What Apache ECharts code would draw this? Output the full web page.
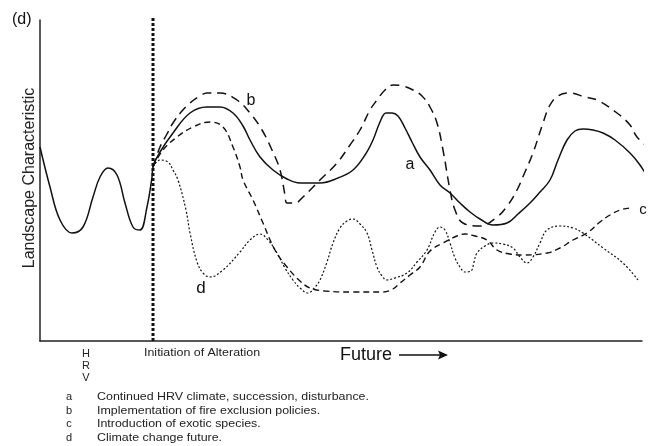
<!DOCTYPE html>
<html><head><meta charset="utf-8">
<script src="https://cdn.jsdelivr.net/npm/echarts@6/dist/echarts.min.js"></script>
<style>html,body{margin:0;padding:0;background:#fff}#c{width:648px;height:446px}</style>
</head><body><div id="c"></div>
<script>
// x: time (arbitrary units), y: landscape characteristic (arbitrary units)
const curveA = [[0,194],[10,154],[20,121],[32,108],[43,114],[53,144],[60,164],[68,173],[77,166],[85,138],[93,114],[100,111],[107,134],[112,164],[113,174],[120,189],[133,208],[150,228],[167,234],[180,234],[193,228],[203,215],[210,201],[220,184],[233,171],[247,162],[260,158],[280,158],[298,163],[313,171],[325,186],[333,201],[340,219],[346,228],[352,228],[358,225],[365,213],[372,199],[380,184],[390,171],[400,156],[410,148],[420,138],[430,129],[440,122],[453,116],[467,118],[478,127],[490,138],[500,149],[510,161],[518,181],[527,201],[535,210],[543,212],[553,211],[563,208],[575,201],[590,188],[600,176],[608,163]];
const curveB = [[113,174],[120,194],[127,207],[133,218],[142,230],[150,238],[160,245],[167,248],[180,248],[197,241],[210,228],[222,211],[232,191],[240,171],[245,146],[247,138],[255,138],[263,144],[280,161],[297,178],[310,196],[320,211],[330,231],[337,241],[345,251],[353,256],[363,255],[373,251],[382,245],[390,234],[397,218],[403,191],[410,151],[415,131],[423,118],[440,115],[457,124],[468,136],[477,151],[485,169],[493,188],[503,218],[510,236],[518,245],[530,248],[545,244],[557,241],[577,228],[590,216],[597,204],[608,194]];
const curveC = [[113,174],[123,191],[137,204],[153,214],[170,219],[183,214],[193,194],[200,174],[203,161],[213,141],[223,118],[235,91],[247,74],[260,60],[270,53],[285,50],[313,49],[343,49],[353,52],[360,58],[370,66],[380,74],[390,90],[403,98],[417,105],[425,107],[435,105],[447,101],[457,91],[470,87],[483,86],[507,88],[520,93],[533,101],[547,108],[560,119],[570,126],[580,131],[590,133]];
const curveD = [[113,174],[120,181],[128,179],[133,171],[138,161],[146,131],[150,108],[157,79],[163,68],[170,64],[183,71],[200,89],[210,101],[220,107],[228,101],[237,88],[245,73],[253,61],[260,53],[268,48],[275,54],[280,61],[287,79],[293,98],[300,113],[307,120],[313,122],[320,117],[327,108],[332,91],[337,74],[342,65],[347,61],[355,63],[367,68],[377,79],[387,91],[395,109],[400,114],[405,111],[410,98],[415,83],[420,74],[425,69],[431,70],[434,79],[437,88],[445,95],[453,98],[463,97],[473,93],[480,84],[487,78],[493,84],[500,98],[507,111],[520,115],[533,113],[543,108],[563,93],[583,78],[598,61]];
const alterationX = 113;
const alterationLine = [[alterationX,0],[alterationX,323]];
const legendKeys = ['a','b','c','d'];
const legendTexts = ['Continued HRV climate, succession, disturbance.','Implementation of fire exclusion policies.','Introduction of exotic species.','Climate change future.'];

const chart = echarts.init(document.getElementById('c'));
const F = '"Liberation Sans", Arial, sans-serif';
const ink = '#111';
function lineSeries(data, type, width, smooth){
  return {type:'line', data, showSymbol:false, symbol:'none', smooth, clip:false, z:3,
    lineStyle:{color:ink, width, type, cap:'butt'}};
}
const graphics = [
  {type:'text', x:12, y:20, style:{text:'(d)', font:'16px '+F, fill:ink, textVerticalAlign:'middle'}},
  {type:'text', x:30, y:178, rotation:Math.PI/2, style:{text:'Landscape Characteristic', font:'16px '+F, fill:'#222', textAlign:'center', textVerticalAlign:'middle'}},
  {type:'text', x:86, y:354, style:{text:'H', font:'11px '+F, fill:'#222', textAlign:'center', textVerticalAlign:'middle'}},
  {type:'text', x:86, y:366, style:{text:'R', font:'11px '+F, fill:'#222', textAlign:'center', textVerticalAlign:'middle'}},
  {type:'text', x:86, y:378, style:{text:'V', font:'11px '+F, fill:'#222', textAlign:'center', textVerticalAlign:'middle'}},
  {type:'text', x:144, y:353, scaleX:1.13, style:{text:'Initiation of Alteration', font:'11px '+F, fill:'#222', textVerticalAlign:'middle'}},
  {type:'text', x:340, y:355, style:{text:'Future', font:'18px '+F, fill:ink, textVerticalAlign:'middle'}},
  {type:'line', shape:{x1:399,y1:355,x2:442,y2:355}, style:{stroke:ink, lineWidth:1.5}},
  {type:'polygon', shape:{points:[[448,355],[438,350.5],[440,355],[438,359.5]]}, style:{fill:ink}},
  {type:'text', x:251, y:101, style:{text:'b', font:'16px '+F, fill:ink, textAlign:'center', textVerticalAlign:'middle'}},
  {type:'text', x:410, y:165, style:{text:'a', font:'16px '+F, fill:ink, textAlign:'center', textVerticalAlign:'middle'}},
  {type:'text', x:643, y:210, style:{text:'c', font:'15px '+F, fill:ink, textAlign:'center', textVerticalAlign:'middle'}},
  {type:'text', x:201, y:288, style:{text:'d', font:'17px '+F, fill:ink, textAlign:'center', textVerticalAlign:'middle'}}
];
legendKeys.forEach((k,i)=>{
  const y = 397 + i*13.7;
  graphics.push({type:'text', x:69, y, style:{text:k, font:'11px '+F, fill:'#222', textAlign:'center', textVerticalAlign:'middle'}});
  graphics.push({type:'text', x:97, y, scaleX:1.13, style:{text:legendTexts[i], font:'11px '+F, fill:'#222', textVerticalAlign:'middle'}});
});
chart.setOption({
  animation:false,
  backgroundColor:'#fff',
  grid:{left:40, right:6, top:20, bottom:105},
  xAxis:{type:'value', min:0, max:602, axisLine:{show:true, lineStyle:{color:'#222', width:1.5}}, axisTick:{show:false}, axisLabel:{show:false}, splitLine:{show:false}},
  yAxis:{type:'value', min:0, max:321, axisLine:{show:true, lineStyle:{color:'#222', width:1.5}}, axisTick:{show:false}, axisLabel:{show:false}, splitLine:{show:false}},
  series:[
    lineSeries(curveA, 'solid', 1.5, 0.4),
    lineSeries(curveB, [9,6], 1.5, 0.4),
    lineSeries(curveC, [6,4], 1.4, 0.4),
    lineSeries(curveD, [2,2], 1.2, 0.4),
    {type:'line', data:alterationLine, showSymbol:false, symbol:'none', clip:false, z:4,
      lineStyle:{color:ink, width:3, type:[3,2], cap:'butt'}}
  ],
  graphic:graphics
});
</script></body></html>
